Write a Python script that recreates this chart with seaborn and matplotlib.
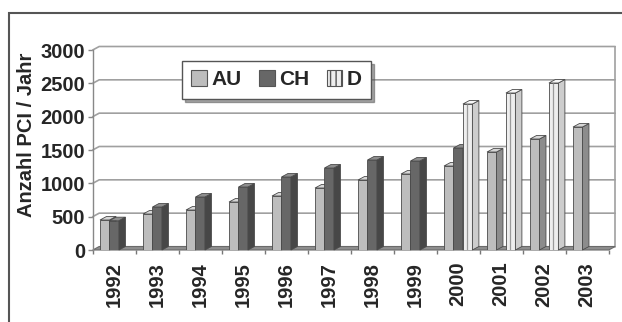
import numpy as np
import pandas as pd
import matplotlib
matplotlib.use("Agg")
import matplotlib.pyplot as plt
from matplotlib.patches import Polygon, Patch, Rectangle
import seaborn as sns

# PCI procedures per year and country
years = ["1992", "1993", "1994", "1995", "1996", "1997",
         "1998", "1999", "2000", "2001", "2002", "2003"]
countries = ["AU", "CH", "D"]
au = [450, 540, 600, 720, 810, 930, 1050, 1140, 1260, 1470, 1665, 1845]
ch = [440, 645, 795, 945, 1095, 1230, 1350, 1335, 1530, np.nan, np.nan, np.nan]
d = [np.nan] * 8 + [2190, 2355, 2505, np.nan]
yticks = [0, 500, 1000, 1500, 2000, 2500, 3000]

front = {"AU": "#bdbdbd", "CH": "#676767", "D": "#eeeeee"}
side = {"AU": "#8c8c8c", "CH": "#474747", "D": "#cdcdcd"}
top = {"AU": "#d6d6d6", "CH": "#8e8e8e", "D": "#f7f7f7"}
edge = "#4a4a4a"

df = pd.DataFrame({
    "Jahr": years * 3,
    "Land": [c for c in countries for _ in years],
    "Anzahl": au + ch + d,
})

sns.set_style("white")
plt.rcParams["font.family"] = ["Liberation Sans", "DejaVu Sans"]
plt.rcParams["font.weight"] = "bold"

W, H = 622, 322
fig = plt.figure(figsize=(W / 100, H / 100), dpi=100)
ax_left, ax_bottom, ax_w, ax_h = 92.7, 72, 516, 200
ax = fig.add_axes([ax_left / W, ax_bottom / H, ax_w / W, ax_h / H])

sns.barplot(data=df, x="Jahr", y="Anzahl", hue="Land", hue_order=countries,
            palette=front, width=0.66, dodge=True, errorbar=None,
            saturation=1, edgecolor=edge, linewidth=0.6, legend=False, ax=ax)

ax.set_xlim(-0.5, len(years) - 0.5)
ax.set_ylim(0, 3000)

# depth of the pseudo-3D extrusion, in data units
ddx = 6.5 * len(years) / ax_w
ddy = 3.5 * 3000 / ax_h

# floor slab
x_lo, x_hi = -0.5, len(years) - 0.5
ax.add_patch(Polygon([(x_lo, 0), (x_hi, 0), (x_hi + ddx, ddy), (x_lo + ddx, ddy)],
                     closed=True, fc="#8e8e8e", ec="#6a6a6a", lw=0.8,
                     zorder=1, clip_on=False))

# back wall grid and side wall edges
for v in yticks[1:]:
    ax.plot([x_lo, x_lo + ddx, x_hi + ddx], [v, v + ddy, v + ddy],
            color="#a0a0a0", lw=1.2, zorder=0.8, clip_on=False)
ax.plot([x_hi + ddx, x_hi + ddx], [ddy, 3000 + ddy],
        color="#a0a0a0", lw=1.2, zorder=0.8, clip_on=False)

# extrude each bar: side and top faces, drawn left to right
bars = []
for level, cont in zip(countries, ax.containers):
    for p in cont.patches:
        h = p.get_height()
        if np.isfinite(h) and h > 0:
            bars.append((p.get_x(), level, p))
bars.sort(key=lambda b: b[0])
for rank, (x0, level, p) in enumerate(bars):
    z = 3 + rank * 0.01
    w, h = p.get_width(), p.get_height()
    p.set_zorder(z)
    ax.add_patch(Polygon([(x0 + w, 0), (x0 + w + ddx, ddy),
                          (x0 + w + ddx, h + ddy), (x0 + w, h)],
                         closed=True, fc=side[level], ec=edge, lw=0.6,
                         zorder=z, clip_on=False))
    ax.add_patch(Polygon([(x0, h), (x0 + w, h), (x0 + w + ddx, h + ddy),
                          (x0 + ddx, h + ddy)],
                         closed=True, fc=top[level], ec=edge, lw=0.6,
                         zorder=z, clip_on=False))
    if level == "D":
        ax.plot([x0 + w * 0.45] * 2, [0, h], color="#9a9a9a", lw=0.9,
                zorder=z, solid_capstyle="butt")

# axes, ticks and labels
ax.set_yticks(yticks)
ax.set_yticklabels([str(v) for v in yticks])
ax.set_xticks(np.arange(-0.5, len(years), 1.0))
ax.set_xticklabels([])
ax.set_xticks(range(len(years)), labels=years, minor=True)
ax.tick_params(axis="x", which="major", bottom=True, length=3.2, width=1,
               color="#777777", direction="out")
ax.tick_params(axis="x", which="minor", bottom=True, length=0, pad=8.5,
               labelsize=14.5, labelrotation=90)
ax.tick_params(axis="y", left=True, length=3.6, width=1, color="#888888",
               pad=2, labelsize=14.5)
for s in ("top", "right", "bottom"):
    ax.spines[s].set_visible(False)
ax.spines["left"].set_color("#888888")
ax.spines["left"].set_linewidth(1)

ax.set_xlabel("")
ax.set_ylabel("Anzahl PCI / Jahr", fontsize=14.5, fontweight="bold")
ax.yaxis.set_label_coords(-0.11, 0.575)

handles = [Patch(fc=front[c], ec="#555555", lw=0.8,
                 hatch="|||" if c == "D" else None, label=c) for c in countries]
leg = ax.legend(handles=handles, loc="upper left",
                bbox_to_anchor=(182 / W, 1 - 61 / H), bbox_transform=fig.transFigure,
                ncol=3, frameon=True, fancybox=False, shadow=True,
                prop={"size": 15, "weight": "bold"}, handlelength=0.75,
                handleheight=0.75, handletextpad=0.2, columnspacing=0.85,
                borderpad=0.45, borderaxespad=0, edgecolor="#555555")
leg.get_frame().set_linewidth(1.0)
leg.get_frame().set_alpha(1)

# outer frame
fig.add_artist(Rectangle((9 / W, -0.2), 1.5, 1.2 - 13 / H,
                         transform=fig.transFigure, fill=False,
                         ec="#555555", lw=1.5))

fig.savefig("out.png", dpi=100)
